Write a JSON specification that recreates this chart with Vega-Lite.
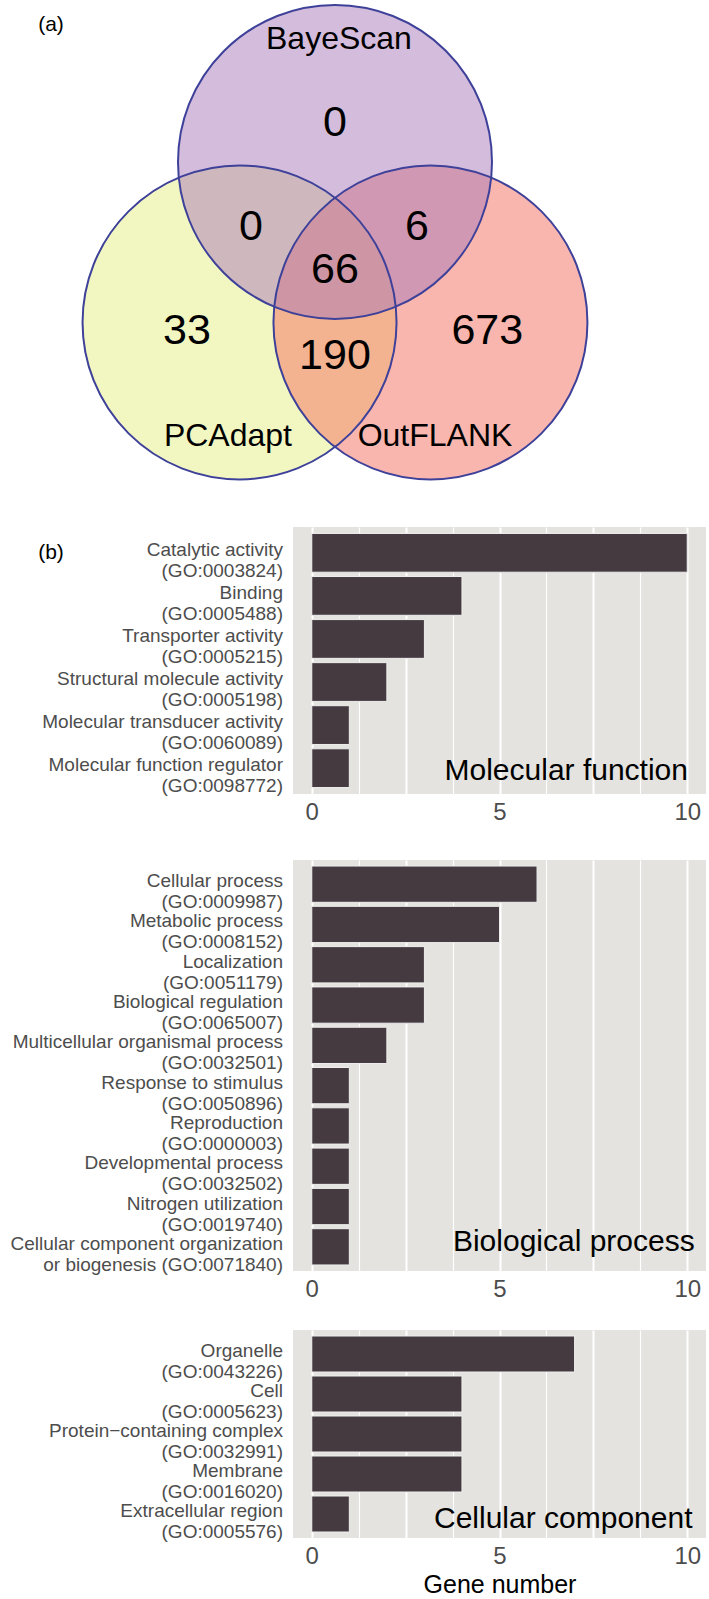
{
  "$schema": "https://vega.github.io/schema/vega-lite/v6.json",
  "background": "white",
  "padding": {"left": 10, "top": 0, "right": 0, "bottom": 0},
  "bounds": "flush",
  "spacing": 66,
  "config": {
    "font": "Liberation Sans",
    "view": {"stroke": null},
    "axis": {"labelFont": "Liberation Sans", "titleFont": "Liberation Sans", "titleFontWeight": "normal"}
  },
  "datasets": {
    "sets": [
      {"set": "PCAdapt", "cx": -0.608, "cy": -1.022},
      {"set": "OutFLANK", "cx": 0.608, "cy": -1.022},
      {"set": "BayeScan", "cx": 0, "cy": 0}
    ],
    "vennText": [
      {"kind": "count", "t": "0", "x": 0, "y": 0.248},
      {"kind": "count", "t": "0", "x": -0.535, "y": -0.414},
      {"kind": "count", "t": "6", "x": 0.522, "y": -0.414},
      {"kind": "count", "t": "66", "x": 0, "y": -0.688},
      {"kind": "count", "t": "33", "x": -0.943, "y": -1.077},
      {"kind": "count", "t": "190", "x": 0, "y": -1.236},
      {"kind": "count", "t": "673", "x": 0.97, "y": -1.077},
      {"kind": "name", "t": "BayeScan", "x": 0.025, "y": 0.783},
      {"kind": "name", "t": "PCAdapt", "x": -0.682, "y": -1.745},
      {"kind": "name", "t": "OutFLANK", "x": 0.637, "y": -1.745},
      {"kind": "tag", "t": "(a)", "x": -1.809, "y": 0.872},
      {"kind": "tag", "t": "(b)", "x": -1.809, "y": -2.491}
    ],
    "go": [
      {"panel": "MF", "term": "Catalytic activity\n(GO:0003824)", "n": 10},
      {"panel": "MF", "term": "Binding\n(GO:0005488)", "n": 4},
      {"panel": "MF", "term": "Transporter activity\n(GO:0005215)", "n": 3},
      {"panel": "MF", "term": "Structural molecule activity\n(GO:0005198)", "n": 2},
      {"panel": "MF", "term": "Molecular transducer activity\n(GO:0060089)", "n": 1},
      {"panel": "MF", "term": "Molecular function regulator\n(GO:0098772)", "n": 1},
      {"panel": "BP", "term": "Cellular process\u00a0\n(GO:0009987)", "n": 6},
      {"panel": "BP", "term": "Metabolic process\u00a0\n(GO:0008152)", "n": 5},
      {"panel": "BP", "term": "Localization\u00a0\n(GO:0051179)", "n": 3},
      {"panel": "BP", "term": "Biological regulation\u00a0\n(GO:0065007)", "n": 3},
      {"panel": "BP", "term": "Multicellular organismal process\u00a0\n(GO:0032501)", "n": 2},
      {"panel": "BP", "term": "Response to stimulus\u00a0\n(GO:0050896)", "n": 1},
      {"panel": "BP", "term": "Reproduction\u00a0\n(GO:0000003)", "n": 1},
      {"panel": "BP", "term": "Developmental process\u00a0\n(GO:0032502)", "n": 1},
      {"panel": "BP", "term": "Nitrogen utilization\u00a0\n(GO:0019740)", "n": 1},
      {"panel": "BP", "term": "Cellular component organization\u00a0\nor biogenesis (GO:0071840)", "n": 1},
      {"panel": "CC", "term": "Organelle\n(GO:0043226)", "n": 7},
      {"panel": "CC", "term": "Cell\n(GO:0005623)", "n": 4},
      {"panel": "CC", "term": "Protein\u2212containing complex\n(GO:0032991)", "n": 4},
      {"panel": "CC", "term": "Membrane\n(GO:0016020)", "n": 4},
      {"panel": "CC", "term": "Extracellular region\n(GO:0005576)", "n": 1}
    ]
  },
  "vconcat": [
    {
      "width": 413,
      "height": 459,
      "layer": [
        {
          "data": {"name": "sets"},
          "mark": {"type": "point", "shape": "circle", "filled": true, "size": 98596, "opacity": 1, "fillOpacity": 0.5, "strokeWidth": 0},
          "encoding": {
            "x": {"field": "cx", "type": "quantitative", "scale": {"domain": [-0.2675, 2.3631], "nice": false, "zero": false}, "axis": null},
            "y": {"field": "cy", "type": "quantitative", "scale": {"domain": [-1.905, 1.019], "nice": false, "zero": false}, "axis": null},
            "color": {"field": "set", "type": "nominal", "sort": null, "scale": {"domain": ["PCAdapt", "OutFLANK", "BayeScan"], "range": ["#e5ef85", "#f36d5d", "#a979b9"]}, "legend": null}
          }
        },
        {
          "data": {"name": "sets"},
          "mark": {"type": "point", "shape": "circle", "filled": false, "size": 98596, "opacity": 1, "stroke": "#3e4199", "strokeWidth": 2},
          "encoding": {
            "x": {"field": "cx", "type": "quantitative"},
            "y": {"field": "cy", "type": "quantitative"}
          }
        },
        {
          "data": {"name": "vennText"},
          "transform": [{"filter": "datum.kind === 'count'"}],
          "mark": {"type": "text", "fontSize": 43, "color": "#000000", "baseline": "middle", "align": "center"},
          "encoding": {
            "x": {"field": "x", "type": "quantitative"},
            "y": {"field": "y", "type": "quantitative"},
            "text": {"field": "t"}
          }
        },
        {
          "data": {"name": "vennText"},
          "transform": [{"filter": "datum.kind === 'name'"}],
          "mark": {"type": "text", "fontSize": 32, "color": "#000000", "baseline": "middle", "align": "center"},
          "encoding": {
            "x": {"field": "x", "type": "quantitative"},
            "y": {"field": "y", "type": "quantitative"},
            "text": {"field": "t"}
          }
        },
        {
          "data": {"name": "vennText"},
          "transform": [{"filter": "datum.kind === 'tag'"}],
          "mark": {"type": "text", "fontSize": 21, "color": "#000000", "baseline": "middle", "align": "center"},
          "encoding": {
            "x": {"field": "x", "type": "quantitative"},
            "y": {"field": "y", "type": "quantitative"},
            "text": {"field": "t"}
          }
        }
      ]
    },
    {
      "width": 413,
      "height": 267,
      "view": {"fill": "#e4e3df", "stroke": null},
      "layer": [
        {
          "data": {"name": "go"},
          "transform": [{"filter": "datum.panel === 'MF'"}],
          "mark": {"type": "bar", "color": "#443a40", "stroke": "#eeeeee", "strokeWidth": 1},
          "encoding": {
            "y": {"field": "term", "type": "nominal", "sort": null, "scale": {"paddingInner": 0.1, "paddingOuter": 0.15},
              "axis": {"title": null, "labelExpr": "split(datum.label, '\\n')", "labelFontSize": 19, "labelColor": "#4d4d4d", "labelLineHeight": 21, "labelPadding": 10.5, "ticks": false, "tickSize": 0, "domain": false, "grid": false, "labelLimit": 400, "labelOffset": -3}},
            "x": {"field": "n", "type": "quantitative", "scale": {"domain": [-0.5, 10.5], "nice": false, "zero": false},
              "axis": {"title": null, "values": [0, 1.25, 2.5, 3.75, 5, 6.25, 7.5, 8.75, 10], "labelExpr": "datum.value % 5 === 0 ? format(datum.value, 'd') : ''", "grid": true, "gridColor": "#ffffff", "gridWidth": {"condition": {"test": "datum.value % 2.5 === 0", "value": 2}, "value": 1.2}, "ticks": false, "tickSize": 0, "domain": false, "labelFontSize": 24, "labelColor": "#4d4d4d", "labelPadding": 6, "labelFlush": false, "labelOverlap": false}}
          }
        },
        {
          "data": {"values": [{"name": "Molecular function"}]},
          "mark": {"type": "text", "fontSize": 30, "color": "#000000", "align": "right", "baseline": "alphabetic", "dy": 12},
          "encoding": {
            "x": {"datum": 10.02, "type": "quantitative"},
            "y": {"datum": "Molecular function regulator\n(GO:0098772)", "type": "nominal"},
            "text": {"field": "name"}
          }
        }
      ]
    },
    {
      "bounds": "flush",
      "spacing": 59,
      "vconcat": [
        {
          "width": 413,
          "height": 411,
          "view": {"fill": "#e4e3df", "stroke": null},
          "layer": [
            {
              "data": {"name": "go"},
              "transform": [{"filter": "datum.panel === 'BP'"}],
              "mark": {"type": "bar", "color": "#443a40", "stroke": "#eeeeee", "strokeWidth": 1},
              "encoding": {
                "y": {"field": "term", "type": "nominal", "sort": null, "scale": {"paddingInner": 0.1, "paddingOuter": 0.15},
                  "axis": {"title": null, "labelExpr": "split(datum.label, '\\n')", "labelFontSize": 19, "labelColor": "#4d4d4d", "labelLineHeight": 21, "labelPadding": 10.5, "ticks": false, "tickSize": 0, "domain": false, "grid": false, "labelLimit": 400, "labelOffset": -3}},
                "x": {"field": "n", "type": "quantitative", "scale": {"domain": [-0.5, 10.5], "nice": false, "zero": false},
                  "axis": {"title": null, "values": [0, 1.25, 2.5, 3.75, 5, 6.25, 7.5, 8.75, 10], "labelExpr": "datum.value % 5 === 0 ? format(datum.value, 'd') : ''", "grid": true, "gridColor": "#ffffff", "gridWidth": {"condition": {"test": "datum.value % 2.5 === 0", "value": 2}, "value": 1.2}, "ticks": false, "tickSize": 0, "domain": false, "labelFontSize": 24, "labelColor": "#4d4d4d", "labelPadding": 6, "labelFlush": false, "labelOverlap": false}}
              }
            },
            {
              "data": {"values": [{"name": "Biological process"}]},
              "mark": {"type": "text", "fontSize": 30, "color": "#000000", "align": "right", "baseline": "alphabetic", "dy": 4.5},
              "encoding": {
                "x": {"datum": 10.2, "type": "quantitative"},
                "y": {"datum": "Cellular component organization\u00a0\nor biogenesis (GO:0071840)", "type": "nominal"},
                "text": {"field": "name"}
              }
            }
          ]
        },
        {
          "width": 413,
          "height": 208,
          "view": {"fill": "#e4e3df", "stroke": null},
          "layer": [
            {
              "data": {"name": "go"},
              "transform": [{"filter": "datum.panel === 'CC'"}],
              "mark": {"type": "bar", "color": "#443a40", "stroke": "#eeeeee", "strokeWidth": 1},
              "encoding": {
                "y": {"field": "term", "type": "nominal", "sort": null, "scale": {"paddingInner": 0.1, "paddingOuter": 0.15},
                  "axis": {"title": null, "labelExpr": "split(datum.label, '\\n')", "labelFontSize": 19, "labelColor": "#4d4d4d", "labelLineHeight": 21, "labelPadding": 10.5, "ticks": false, "tickSize": 0, "domain": false, "grid": false, "labelLimit": 400, "labelOffset": -3}},
                "x": {"field": "n", "type": "quantitative", "scale": {"domain": [-0.5, 10.5], "nice": false, "zero": false},
                  "axis": {"title": "Gene number", "titleFontSize": 25, "titleColor": "#000000", "titlePadding": 4, "values": [0, 1.25, 2.5, 3.75, 5, 6.25, 7.5, 8.75, 10], "labelExpr": "datum.value % 5 === 0 ? format(datum.value, 'd') : ''", "grid": true, "gridColor": "#ffffff", "gridWidth": {"condition": {"test": "datum.value % 2.5 === 0", "value": 2}, "value": 1.2}, "ticks": false, "tickSize": 0, "domain": false, "labelFontSize": 24, "labelColor": "#4d4d4d", "labelPadding": 6, "labelFlush": false, "labelOverlap": false}}
              }
            },
            {
              "data": {"values": [{"name": "Cellular component"}]},
              "mark": {"type": "text", "fontSize": 30, "color": "#000000", "align": "right", "baseline": "alphabetic", "dy": 14},
              "encoding": {
                "x": {"datum": 10.14, "type": "quantitative"},
                "y": {"datum": "Extracellular region\n(GO:0005576)", "type": "nominal"},
                "text": {"field": "name"}
              }
            }
          ]
        }
      ]
    }
  ]
}
